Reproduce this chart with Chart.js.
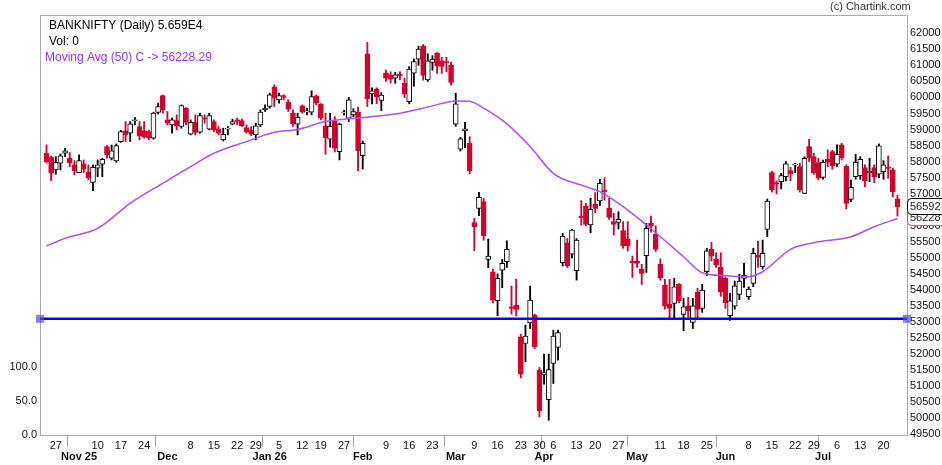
<!DOCTYPE html>
<html>
<head>
<meta charset="utf-8">
<title>BANKNIFTY (Daily)</title>
<script src="https://cdn.jsdelivr.net/npm/chart.js@4.4.1/dist/chart.umd.min.js"></script>
<style>
  html, body { margin: 0; padding: 0; background: #fff; }
  #wrap { width: 942px; height: 465px; }
</style>
</head>
<body>
<div id="wrap"><canvas id="chart" width="942" height="465"></canvas></div>
<script>
// trading calendar: first session and exchange holidays in the range
const firstDay = '2025-10-23';
const holidays = ['2025-11-05', '2025-12-25', '2026-01-15', '2026-01-26', '2026-03-03', '2026-03-26',
  '2026-03-31', '2026-04-03', '2026-04-14', '2026-05-01', '2026-05-28', '2026-06-26'];
const monthNames = ['Jan 26', 'Feb', 'Mar', 'Apr', 'May', 'Jun', 'Jul', 'Aug', 'Sep', 'Oct', 'Nov 25', 'Dec'];

// daily OHLC
const opens = [58260,58135,57740,57948,58260,58104,57896,57657,57927,57667,57355,57792,57917,58469,58104,58022,58625,58958,58885,59275,
  59093,58958,58937,58729,59530,60060,59301,59145,59280,59093,59665,58854,59228,58916,59363,59010,59249,59020,58677,59015,
  59166,59301,59280,59062,58989,58833,59145,59613,59717,60331,59925,60060,59852,59509,59166,59738,59540,59540,60050,59790,
  59114,58700,59269,58312,59520,59352,59456,59540,58187,61360,60111,60257,59904,60757,60705,60601,60736,60445,59872,60757,
  61193,61610,60549,61089,61381,61142,61120,61017,59165,58385,58957,58572,56096,56543,56751,54952,54567,53662,54619,54879,
  53470,53526,52538,52330,52975,53214,51498,51350,50583,51706,52206,54848,55472,55118,54598,56305,56617,56024,56679,56773,
  57116,56544,56128,56107,55847,55587,54900,54900,54650,55066,56076,55743,54806,54151,53558,53579,54172,53236,53506,52986,
  53922,53423,54567,55264,54963,54702,54359,53194,53496,53860,54359,53787,54203,55087,54723,55888,57656,57350,57376,57532,
  57719,57890,57844,57012,58468,58156,57969,57511,58073,58312,57917,58520,57864,56824,57532,57563,57812,57650,57812,57605,
  57688,57830,57740,56830];
const highs = [58520,58177,58156,58239,58416,58281,58031,58208,58052,57896,57896,58052,58104,58500,58520,58551,58980,59249,59249,59374,
  59249,59249,58980,59540,59821,60081,59561,59353,59457,59769,59686,59301,59457,59509,59457,59509,59301,59093,59041,59093,
  59322,59353,59332,59145,59093,59197,59613,59769,60133,60393,60133,60081,59925,59613,59509,59769,59665,60206,60081,59811,
  59509,59509,59400,59200,59600,60000,59650,59700,58645,61714,60300,60300,60150,60850,60800,60780,60800,60600,60960,61200,
  61600,61650,61360,61300,61400,61250,61250,61100,60130,58750,59228,58780,56230,57043,56850,55586,54650,54500,54952,55534,
  54120,54338,52621,52900,54120,53245,51580,51998,51998,52747,52747,55764,55600,55888,55600,56783,56700,56856,57033,57450,
  57500,56856,56388,56440,56128,56128,55056,55556,54800,56076,56305,56000,54963,54328,54328,54359,54200,53735,53766,53735,
  54047,54172,55296,55482,55160,55160,54400,53891,54276,54494,54827,54100,55296,55524,55555,56835,57700,57400,57636,58000,
  57823,57950,57950,58150,58697,58260,58100,58050,58364,58350,58520,58572,57900,57428,58229,58156,57900,58104,57900,58551,
  58031,58177,57800,56950];
const lows = [57950,57407,57605,57740,58156,57844,57584,57657,57657,57428,57095,57532,57532,58104,58050,57980,58600,58625,58625,59145,
  58677,58729,58677,58700,59480,59509,59145,58885,58989,59041,59145,58833,58833,58885,59197,58989,58937,58833,58645,58833,
  59145,59145,59093,58885,58812,58677,59093,59561,59665,59717,59821,59925,59561,59093,58833,59509,59457,59457,59769,59301,
  58230,58450,58300,58052,59450,59250,59400,57720,57770,59716,59800,59800,59590,60500,60450,60440,60550,59996,59800,60350,
  61000,60540,60500,60850,60750,60750,60800,60390,59100,58330,58437,57620,55222,56315,55550,54692,53600,53193,54067,54700,
  53245,53193,51259,51758,52797,52174,50042,51061,49938,51082,51810,54744,54700,55000,54307,56024,56000,55785,56400,56627,
  56800,56200,55712,55900,55300,55212,54390,54700,54172,54546,55800,55200,54300,53400,53132,53132,53600,52726,53142,52799,
  53132,53300,54450,54900,54700,53800,53423,53050,53400,53700,54078,53700,54100,54702,54650,55659,57050,56991,57147,57400,
  57407,57656,57050,57000,58000,57600,57428,57450,57844,57761,57850,58052,56523,56750,57450,57450,57220,57376,57344,57500,
  57448,57480,56908,56300];
const closes = [58000,57636,57979,58177,58333,57969,57719,58031,57761,57501,57823,57896,58073,58209,58333,58500,58937,58833,59176,59285,
  58802,58781,58750,59509,59717,59613,59197,59301,59114,59748,59218,59228,58906,59436,59320,59436,58989,58885,58854,59025,
  59249,59249,59124,58937,58854,59114,59540,59665,60081,59977,60060,59998,59634,59176,59384,59540,59580,60029,59831,59353,
  58750,59100,58416,59165,59540,59924,59560,58343,58572,59955,60205,60007,60070,60601,60570,60705,60674,60111,60882,61121,
  61506,60684,61142,61194,60985,60965,61080,60465,59800,58707,59019,57719,55971,56887,55680,55056,53683,54359,54827,55264,
  53420,53391,51373,52559,53682,52226,50229,51420,51519,52560,52674,55680,54754,55867,55555,56250,56045,56513,56544,57324,
  57064,56263,56044,56200,55368,55368,54850,54827,54515,55920,56003,55264,54380,53496,53423,54100,53662,53475,53350,53506,
  53392,53995,55222,55056,54775,53943,53600,53662,54130,54276,54463,54026,55140,55014,55140,56772,57115,57300,57563,57927,
  57615,57900,57116,58104,58104,57657,57480,57979,57979,57875,58229,58125,56700,57199,57979,58073,57407,57700,57532,58489,
  57896,57790,57064,56592];

// 50-day moving average of the close, read at points along the curve
const maIdx = [0, 4, 11, 18, 25, 31, 36, 43, 49, 54, 60, 69, 76, 83, 88, 91, 94, 99, 104, 109, 116, 119, 124, 129, 137, 141, 146, 151, 154, 160, 165, 173, 178, 183];
const maVals = [55368, 55610, 55919, 56700, 57324, 57844, 58260, 58624, 58916, 59000, 59249, 59383, 59508, 59737, 59893, 59880, 59664, 59175, 58468, 57636,
  57219, 57064, 56595, 56023, 55035, 54535, 54442, 54411, 54567, 55264, 55472, 55659, 55971, 56228.29];

const levelLine = 53100;
const priceTicks = [49500, 50000, 50500, 51000, 51500, 52000, 52500, 53000, 53500, 54000, 54500, 55000, 55500,
  56000, 56500, 57000, 57500, 58000, 58500, 59000, 59500, 60000, 60500, 61000, 61500, 62000];
const volTicks = [0, 50, 100];

const RED = '#d2002f';
const PURPLE = '#b04cff';
const FRAME = '#aaaaaa';
const X_MIN = -1.4, X_MAX = 185.05;

Chart.defaults.font.family = "'Liberation Sans', Arial, sans-serif";
Chart.defaults.font.size = 11;
Chart.defaults.color = '#111';

function tradingDays(start, n) {
  const out = [];
  const d = new Date(start + 'T00:00:00Z');
  while (out.length < n) {
    const wd = d.getUTCDay();
    if (wd !== 0 && wd !== 6 && !holidays.includes(d.toISOString().slice(0, 10))) out.push(new Date(d));
    d.setUTCDate(d.getUTCDate() + 1);
  }
  return out;
}

const dates = tradingDays(firstDay, closes.length);
const xLabels = {};
const monthTicks = new Set();
for (let i = 1; i < dates.length; i++) {
  const d = dates[i], p = dates[i - 1];
  if (d.getUTCMonth() !== p.getUTCMonth()) {
    xLabels[i] = ['', monthNames[d.getUTCMonth()]];
    monthTicks.add(i);
  } else if (d.getUTCDay() <= p.getUTCDay()) {
    xLabels[i] = String(d.getUTCDate());
  }
}

const up = closes.map((c, i) => c >= opens[i]);
const isMonth = c => !!(c.tick && monthTicks.has(c.tick.value));

const overlay = {
  id: 'overlay',
  afterDraw(chart) {
    const { ctx, chartArea: a, scales } = chart;
    ctx.save();
    // top frame line
    ctx.strokeStyle = FRAME; ctx.lineWidth = 1;
    ctx.beginPath(); ctx.moveTo(a.left, a.top + 0.5); ctx.lineTo(a.right, a.top + 0.5); ctx.stroke();

    ctx.textBaseline = 'middle';
    ctx.font = "12px 'Liberation Sans', Arial, sans-serif";
    ctx.fillStyle = '#000';
    const last = closes[closes.length - 1];
    ctx.fillText('BANKNIFTY (Daily) ' + (last / 1e4).toFixed(3) + 'E4', 49, 26);
    ctx.fillText('Vol: 0', 49, 42);
    ctx.fillStyle = '#9b30ff';
    ctx.fillText('Moving Avg (50) C -> ' + maVals[maVals.length - 1].toFixed(2), 45, 58);

    ctx.font = "11px 'Liberation Sans', Arial, sans-serif";
    ctx.fillStyle = '#333';
    ctx.fillText('(c) Chartink.com', 830, 7);

    // last value tags on the price axis
    const tag = (v, border) => {
      const y = Math.round(scales.price.getPixelForValue(v));
      ctx.beginPath();
      ctx.roundRect(a.right + 0.5, y - 8.5, 40, 16, 4);
      ctx.fillStyle = '#fff'; ctx.fill();
      ctx.strokeStyle = border; ctx.lineWidth = 1; ctx.stroke();
      ctx.fillStyle = '#222';
      ctx.fillText(String(Math.round(v)), a.right + 3, y);
    };
    tag(maVals[maVals.length - 1], PURPLE);
    tag(last, '#000');
    ctx.restore();
  }
};

new Chart(document.getElementById('chart'), {
  type: 'bar',
  data: {
    datasets: [
      {
        type: 'line', label: 'Level', order: 0, yAxisID: 'price', xAxisID: 'x',
        data: [{ x: X_MIN, y: levelLine }, { x: X_MAX, y: levelLine }],
        borderColor: '#0000ff', borderWidth: 2.5, clip: false,
        pointStyle: 'rect', pointRadius: 5.7, pointBorderWidth: 0,
        pointBackgroundColor: 'rgba(80,80,225,0.7)'
      },
      {
        type: 'line', label: 'Moving Avg (50)', order: 1, yAxisID: 'price', xAxisID: 'x',
        data: maIdx.map((x, k) => ({ x, y: maVals[k] })),
        borderColor: PURPLE, borderWidth: 1.5, pointRadius: 0, cubicInterpolationMode: 'monotone'
      },
      {
        label: 'Body', order: 2, yAxisID: 'price', xAxisID: 'x',
        data: closes.map((c, i) => ({ x: i, y: [opens[i], c] })),
        backgroundColor: up.map(u => u ? '#fff' : RED),
        borderColor: up.map(u => u ? '#000' : RED),
        borderWidth: 1, borderSkipped: false, barThickness: 5, minBarLength: 1, grouped: false
      },
      {
        label: 'Wick', order: 3, yAxisID: 'price', xAxisID: 'x',
        data: closes.map((c, i) => ({ x: i, y: [lows[i], highs[i]] })),
        backgroundColor: up.map(u => u ? '#000' : RED),
        borderWidth: 0, barThickness: 1.2, grouped: false
      }
    ]
  },
  options: {
    responsive: false, animation: false, devicePixelRatio: 1,
    layout: { padding: { top: 15, left: 0, right: 0, bottom: 0 } },
    plugins: { legend: { display: false }, tooltip: { enabled: false } },
    scales: {
      x: {
        type: 'linear', min: X_MIN, max: X_MAX, offset: false,
        afterBuildTicks: s => { s.ticks = Object.keys(xLabels).map(k => ({ value: +k })); },
        afterFit: s => { s.height = 30; },
        ticks: {
          autoSkip: false, maxRotation: 0, padding: -6.5, color: '#111',
          callback: v => xLabels[v],
          font: c => ({ size: 11, weight: isMonth(c) ? 'bold' : 'normal', lineHeight: 1 })
        },
        grid: { drawOnChartArea: false, tickLength: 12, color: c => isMonth(c) ? FRAME : 'rgba(0,0,0,0)' },
        border: { color: FRAME }
      },
      price: {
        position: 'right', min: 49478, max: 62570,
        afterBuildTicks: s => { s.ticks = priceTicks.map(v => ({ value: v })); },
        afterFit: s => { s.width = 35; },
        ticks: { padding: 3, callback: v => String(v) },
        grid: { display: false, drawTicks: false },
        border: { color: FRAME }
      },
      vol: {
        position: 'left', min: 0, max: 615,
        afterBuildTicks: s => { s.ticks = volTicks.map(v => ({ value: v })); },
        afterFit: s => { s.width = 40; },
        ticks: { padding: 3, callback: v => v.toFixed(1) },
        grid: { display: false, drawTicks: false },
        border: { color: FRAME }
      }
    }
  },
  plugins: [overlay]
});
</script>
</body>
</html>
